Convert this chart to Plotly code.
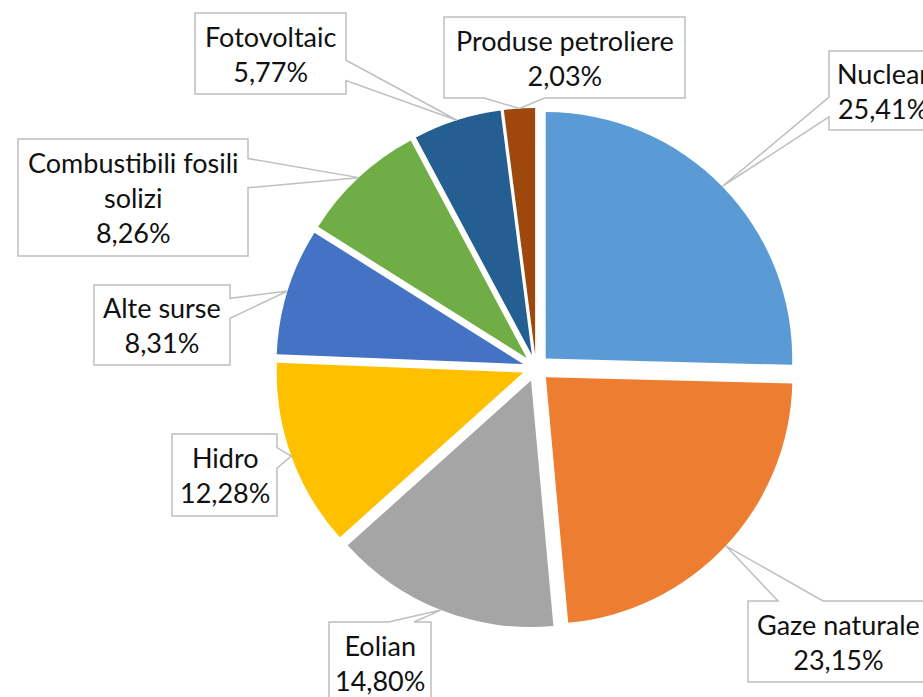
import math
import plotly.graph_objects as go

# ---- data ----
labels = ["Nuclear", "Gaze naturale", "Eolian", "Hidro", "Alte surse",
          "Combustibili fosili solizi", "Fotovoltaic", "Produse petroliere"]
label_text = ["Nuclear", "Gaze naturale", "Eolian", "Hidro", "Alte surse",
              "Combustibili fosili<br>solizi", "Fotovoltaic", "Produse petroliere"]
values = [25.41, 23.15, 14.80, 12.28, 8.31, 8.26, 5.77, 2.03]
colors = ["#5B9BD5", "#ED7D31", "#A5A5A5", "#FFC000", "#4472C4",
          "#70AD47", "#255E91", "#9E480E"]

# ---- layout (pixels) ----
W, H = 923, 697
CX, CY = 536, 368
R = 246.5
PULL = 0.055
# callout boxes: left, top, right, bottom (pixels)
boxes = [
    (829, 51, 937, 130),
    (748, 601, 928, 682),
    (329, 622, 431, 703),
    (172, 434, 277, 516),
    (94, 285, 230, 365),
    (18, 139, 248, 256),
    (195, 13, 346, 94),
    (444, 17, 685, 98),
]
FONT = dict(family="Lato, 'Open Sans', sans-serif", size=27, color="#111111")
BOX_LINE = "#BFBFBF"

half = R * (1 + PULL)
domain_x = [(CX - half) / W, (CX + half) / W]
domain_y = [1 - (CY + half) / H, 1 - (CY - half) / H]

fig = go.Figure(go.Pie(
    labels=labels, values=values, sort=False, direction="clockwise",
    rotation=0, pull=[PULL] * len(values), textinfo="none",
    marker=dict(colors=colors, line=dict(color="white", width=0)),
    domain=dict(x=domain_x, y=domain_y), showlegend=False, hoverinfo="label+percent",
))


def px2paper(x, y):
    return x / W, 1 - y / H


def callout_path(l, t, r, b, tx, ty):
    w = r - l
    h = b - t
    hc = l + w / 2
    vc = t + h / 2
    dx = tx - hc
    dy = ty - vc
    dq = dx * h / w
    if abs(dy) - abs(dq) > 0:
        x1 = l + w * (7 if dx > 0 else 2) / 12
        x2 = l + w * (10 if dx > 0 else 5) / 12
        if dy < 0:
            pts = [(l, t), (x1, t), (tx, ty), (x2, t), (r, t), (r, b), (l, b)]
        else:
            pts = [(l, t), (r, t), (r, b), (x2, b), (tx, ty), (x1, b), (l, b)]
    else:
        y1 = t + h * (7 if dy > 0 else 2) / 12
        y2 = t + h * (10 if dy > 0 else 5) / 12
        if dx > 0:
            pts = [(l, t), (r, t), (r, y1), (tx, ty), (r, y2), (r, b), (l, b)]
        else:
            pts = [(l, t), (r, t), (r, b), (l, b), (l, y2), (tx, ty), (l, y1)]
    s = ""
    for i, (x, y) in enumerate(pts):
        px, py = px2paper(x, y)
        s += ("M" if i == 0 else " L") + f"{px:.5f},{py:.5f}"
    return s + " Z"


total = sum(values)
cum = 0.0
shapes = []
annotations = []
for lab, v, box in zip(label_text, values, boxes):
    mid = (cum + v / 2) / total * 2 * math.pi
    cum += v
    tx = CX + half * math.sin(mid)
    ty = CY - half * math.cos(mid)
    l, t, r, b = box
    shapes.append(dict(type="path", xref="paper", yref="paper",
                       path=callout_path(l, t, r, b, tx, ty),
                       fillcolor="white", line=dict(color=BOX_LINE, width=1.5),
                       layer="above"))
    pct = f"{v:.2f}".replace(".", ",") + "%"
    ax, ay = px2paper((l + r) / 2, (t + b) / 2)
    annotations.append(dict(x=ax, y=ay, xref="paper", yref="paper",
                            text=f"{lab}<br>{pct}", showarrow=False,
                            xanchor="center", yanchor="middle",
                            align="center", font=FONT))

fig.update_layout(
    width=W, height=H, margin=dict(l=0, r=0, t=0, b=0),
    paper_bgcolor="white", plot_bgcolor="white",
    shapes=shapes, annotations=annotations, showlegend=False,
)

fig.write_html("out.html", config={"displayModeBar": False},
               post_script="document.body.style.margin='0';document.body.style.overflow='hidden';")
